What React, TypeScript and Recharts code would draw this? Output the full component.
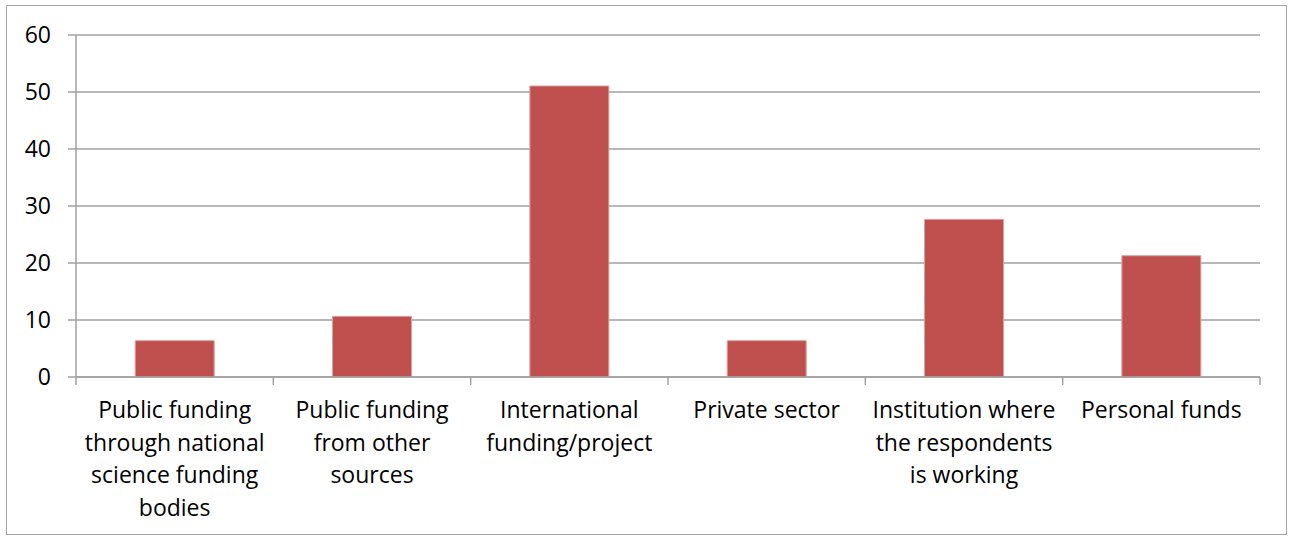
import { BarChart, Bar, XAxis, YAxis, CartesianGrid } from "recharts";

const categories = [
  "Public funding through national science funding bodies",
  "Public funding from other sources",
  "International funding/project",
  "Private sector",
  "Institution where the respondents is working",
  "Personal funds",
];

const tickLines = [
  ["Public funding", "through national", "science funding", "bodies"],
  ["Public funding", "from other", "sources"],
  ["International", "funding/project"],
  ["Private sector"],
  ["Institution where", "the respondents", "is working"],
  ["Personal funds"],
];

const values = [6.38, 10.64, 51.06, 6.38, 27.66, 21.28];

const yTicks = [0, 10, 20, 30, 40, 50, 60];

const data = categories.map((name, i) => ({ name, value: values[i] }));

const WIDTH = 1289;
const HEIGHT = 539;
const MARGIN = { top: 35, right: 29, bottom: 12, left: 0 };
const Y_AXIS_WIDTH = 76;
const GRAY = "#A0A0A0";
const FONT = "'Open Sans', sans-serif";
const BAND = (WIDTH - MARGIN.left - MARGIN.right - Y_AXIS_WIDTH) / categories.length;

const CategoryTick = (props: any) => {
  const { x, y, index } = props;
  const lines = tickLines[index] || [];
  const left = x - BAND / 2;
  const right = x + BAND / 2;
  return (
    <g>
      <line x1={left} x2={left} y1={y} y2={y + 8} stroke={GRAY} strokeWidth={1.5} />
      {index === categories.length - 1 && (
        <line x1={right} x2={right} y1={y} y2={y + 8} stroke={GRAY} strokeWidth={1.5} />
      )}
      <text x={x} y={y + 41} textAnchor="middle" fill="#000" fontSize={23} fontFamily={FONT}>
        {lines.map((line, i) => (
          <tspan key={i} x={x} dy={i === 0 ? 0 : 32.5}>
            {line}
          </tspan>
        ))}
      </text>
    </g>
  );
};

export default function App() {
  return (
    <div style={{ position: "absolute", left: 0, top: 0, width: WIDTH, height: HEIGHT, background: "#fff" }}>
      <div
        style={{
          position: "absolute",
          left: 6,
          top: 5,
          width: 1281,
          height: 530,
          border: "1.5px solid #A6A6A6",
          boxSizing: "border-box",
        }}
      />
      <div style={{ position: "absolute", left: 0, top: 0 }}>
        <BarChart width={WIDTH} height={HEIGHT} data={data} margin={MARGIN} barCategoryGap="30%">
          <CartesianGrid vertical={false} stroke={GRAY} strokeWidth={1.5} />
          <XAxis
            dataKey="name"
            interval={0}
            height={150}
            tickSize={0}
            tickMargin={0}
            tickLine={false}
            axisLine={{ stroke: GRAY, strokeWidth: 1.5 }}
            tick={<CategoryTick />}
          />
          <YAxis
            domain={[0, 60]}
            ticks={yTicks}
            width={Y_AXIS_WIDTH}
            tickSize={8}
            tickMargin={17}
            tickLine={{ stroke: GRAY, strokeWidth: 1.5 }}
            axisLine={{ stroke: GRAY, strokeWidth: 1.5 }}
            tick={{ fill: "#000", fontSize: 23, fontFamily: FONT }}
          />
          <Bar dataKey="value" fill="#C0504D" stroke="#D9A3A1" strokeWidth={1} isAnimationActive={false} />
        </BarChart>
      </div>
    </div>
  );
}
